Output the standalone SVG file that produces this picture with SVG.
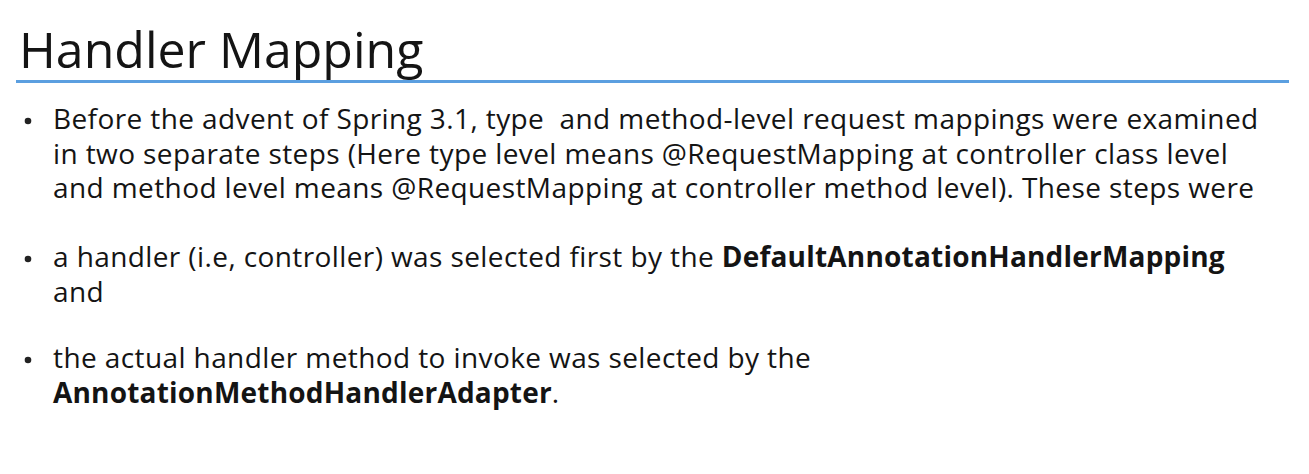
<svg xmlns="http://www.w3.org/2000/svg" width="1309" height="474" viewBox="0 0 1309 474">
<style>
.t{font-family:"Open Sans","Noto Sans","Liberation Sans",sans-serif;fill:#141414}
.title{font-size:50px}
.b{font-size:28px;letter-spacing:0.4px}
.bold{font-weight:bold;letter-spacing:0.2px}
.dot{fill:#222}
</style>
<rect width="1309" height="474" fill="#ffffff"/>
<g id="title">
<text class="t title" x="19" y="68">Handler Mapping</text>
<line x1="16" y1="81.5" x2="1289" y2="81.5" stroke="#5b9fe0" stroke-width="3"/>
</g>
<g id="bullet1">
<circle class="dot" cx="28" cy="121" r="3.3"/>
<text class="t b" x="53" y="129">Before the advent of Spring 3.1, type&#160; and method-level request mappings were examined</text>
<text class="t b" x="53" y="164">in two separate steps (Here type level means @RequestMapping at controller class level</text>
<text class="t b" x="53" y="198">and method level means @RequestMapping at controller method level). These steps were</text>
</g>
<g id="bullet2">
<circle class="dot" cx="28" cy="259" r="3.3"/>
<text class="t b" x="53" y="267">a handler (i.e, controller) was selected first by the <tspan class="bold">DefaultAnnotationHandlerMapping</tspan></text>
<text class="t b" x="53" y="302">and</text>
</g>
<g id="bullet3">
<circle class="dot" cx="28" cy="360" r="3.3"/>
<text class="t b" x="53" y="368">the actual handler method to invoke was selected by the</text>
<text class="t b" x="53" y="403"><tspan class="bold">AnnotationMethodHandlerAdapter</tspan>.</text>
</g>
</svg>
